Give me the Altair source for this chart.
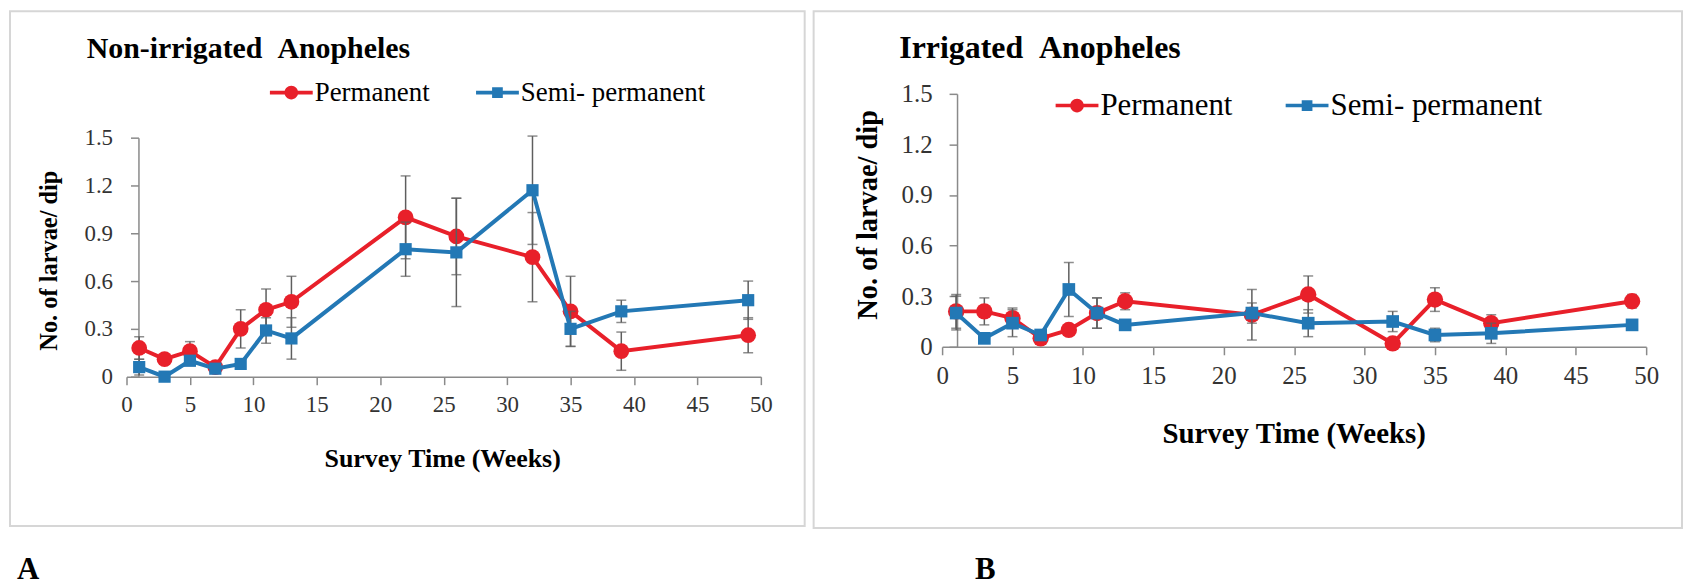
import altair as alt
import pandas as pd

FONT = "Liberation Serif"
RED = "#e8202a"
BLUE = "#2378b5"
ERR_GRAY = "#5e5e5e"
AXIS_GRAY = "#8a8a8a"

series_names = ["Permanent", "Semi- permanent"]
weeks = [1, 3, 5, 7, 9, 11, 13, 22, 26, 32, 35, 39, 49]

# Panel A: Non-irrigated
a_perm = [0.18, 0.11, 0.16, 0.06, 0.30, 0.42, 0.47, 1.00, 0.88, 0.75, 0.41, 0.16, 0.26]
a_perm_err = [0.07, 0.02, 0.06, 0.02, 0.12, 0.13, 0.16, 0.26, 0.24, 0.28, 0.22, 0.12, 0.11]
a_semi = [0.06, 0.00, 0.10, 0.05, 0.08, 0.29, 0.24, 0.80, 0.78, 1.17, 0.30, 0.41, 0.48]
a_semi_err = [0.05, 0.01, 0.03, 0.02, 0.03, 0.08, 0.13, 0.17, 0.34, 0.34, 0.11, 0.07, 0.12]

# Panel B: Irrigated
b_perm = [0.21, 0.21, 0.17, 0.05, 0.10, 0.20, 0.27, 0.19, 0.31, 0.02, 0.28, 0.14, 0.27]
b_perm_err = [0.10, 0.08, 0.06, 0.02, 0.02, 0.09, 0.05, 0.15, 0.11, 0.01, 0.07, 0.05, 0.04]
b_semi = [0.20, 0.05, 0.14, 0.07, 0.34, 0.20, 0.13, 0.20, 0.14, 0.15, 0.07, 0.08, 0.13]
b_semi_err = [0.10, 0.02, 0.08, 0.03, 0.16, 0.09, 0.03, 0.06, 0.08, 0.06, 0.04, 0.06, 0.02]

x_ticks = [0, 5, 10, 15, 20, 25, 30, 35, 40, 45, 50]
y_ticks = [0, 0.3, 0.6, 0.9, 1.2, 1.5]

CIRCLE_LEG = ("M-1,-0.085H1V0.085H-1Z "
              "M-0.32,0A0.32,0.32 0 1,1 0.32,0A0.32,0.32 0 1,1 -0.32,0Z")
SQUARE_LEG = ("M-1,-0.085H1V0.085H-1Z "
              "M-0.25,-0.25H0.25V0.25H-0.25Z")


def make_df(perm, perm_err, semi, semi_err):
    rows = []
    for name, vals, errs in [(series_names[0], perm, perm_err),
                             (series_names[1], semi, semi_err)]:
        for w, v, e in zip(weeks, vals, errs):
            rows.append({"week": w, "value": v, "lo": v - e, "hi": v + e,
                         "series": name})
    return pd.DataFrame(rows)


def panel(df, g):
    s = g["s"]
    xscale = alt.Scale(domain=[0, 50], range=g["xr"], nice=False, zero=False)
    yscale = alt.Scale(domain=[0, 1.5], range=g["yr"], nice=False)
    x_axis = alt.Axis(
        values=x_ticks, format="d", grid=False, offset=g["xoff"],
        tickSize=8, tickColor=AXIS_GRAY, tickWidth=1.5,
        domainColor=AXIS_GRAY, domainWidth=1.5, labelFlush=False,
        labelFont=FONT, labelFontSize=g["lfs"], labelColor="#333333",
        labelPadding=9,
        title="Survey Time (Weeks)", titleFont=FONT,
        titleFontSize=g["xtfs"], titleFontWeight="bold", titleColor="black",
        titleX=g["xtx"], titleY=g["xty"], titleAlign="center",
        titleBaseline="middle",
    )
    y_axis = alt.Axis(
        values=y_ticks, grid=False, offset=g["yoff"], labelFlush=False,
        labelExpr="datum.value == 0 ? '0' : format(datum.value, '.1f')",
        tickSize=8, tickColor=AXIS_GRAY, tickWidth=1.5,
        domainColor=AXIS_GRAY, domainWidth=1.5,
        labelFont=FONT, labelFontSize=g["lfs"], labelColor="#333333",
        labelPadding=g["ylp"],
        title="No. of larvae/ dip", titleFont=FONT,
        titleFontSize=g["ytfs"], titleFontWeight="bold", titleColor="black",
        titleX=g["ytx"], titleY=g["yty"], titleAngle=270,
        titleAlign="center", titleBaseline="middle",
    )

    X = alt.X("week:Q", scale=xscale, axis=x_axis)

    def Y(field):
        return alt.Y(field, scale=yscale, axis=y_axis)

    base = alt.Chart(df)
    layers = []
    for name, color, shape, size in [(series_names[0], RED, "circle", 250),
                                     (series_names[1], BLUE, "square", 150)]:
        sb = base.transform_filter(alt.datum.series == name)
        layers.append(sb.mark_rule(color=ERR_GRAY, strokeWidth=1.5).encode(
            x=X, y=Y("lo:Q"), y2="hi:Q"))
        layers.append(sb.mark_tick(orient="horizontal", size=10, thickness=1.5,
                                   color=ERR_GRAY).encode(x=X, y=Y("lo:Q")))
        layers.append(sb.mark_tick(orient="horizontal", size=10, thickness=1.5,
                                   color=ERR_GRAY).encode(x=X, y=Y("hi:Q")))
        layers.append(sb.mark_line(color=color, strokeWidth=4).encode(
            x=X, y=Y("value:Q")))
        layers.append(sb.mark_point(filled=True, shape=shape, size=size * s,
                                    color=color, opacity=1).encode(
            x=X, y=Y("value:Q")))

    leg = alt.Legend(
        orient="none", legendX=g["lx"], legendY=g["ly"],
        direction="horizontal", title=None,
        symbolSize=g["lsym"], symbolStrokeWidth=0, symbolOpacity=1,
        labelFont=FONT, labelFontSize=g["legfs"], labelColor="black",
        labelOffset=2, columnPadding=g["lcp"], labelLimit=500,
    )
    layers.append(
        base.transform_filter("false").mark_point(filled=True, opacity=1).encode(
            x=X, y=Y("value:Q"),
            color=alt.Color("series:N",
                            scale=alt.Scale(domain=series_names, range=[RED, BLUE]),
                            legend=leg),
            shape=alt.Shape("series:N",
                            scale=alt.Scale(domain=series_names,
                                            range=[CIRCLE_LEG, SQUARE_LEG]),
                            legend=leg),
        )
    )
    layers.append(
        alt.Chart(pd.DataFrame({"t": [g["title"]]})).mark_text(
            align="left", baseline="alphabetic", font=FONT,
            fontSize=g["tfs"], fontWeight="bold", color="black"
        ).encode(x=alt.value(g["tx"]), y=alt.value(g["ty"]), text="t:N")
    )
    layers.append(
        alt.Chart(pd.DataFrame({"t": [g["tag"]]})).mark_text(
            align="left", baseline="alphabetic", font=FONT,
            fontSize=31, fontWeight="bold", color="black"
        ).encode(x=alt.value(g["agx"]), y=alt.value(570), text="t:N")
    )
    return alt.layer(*layers).properties(width=g["w"], height=g["h"])


geom_a = dict(s=1.0, w=798, h=517, xr=[117, 754], yr=[367, 127],
              xoff=-150, yoff=-129, ylp=18, lfs=23, xtfs=26, ytfs=24.5,
              xtx=434, xty=82, ytx=-89, yty=250,
              lx=261, ly=60, lsym=1849, lcp=46, legfs=27,
              title="Non-irrigated\u2002Anopheles", tfs=30, tx=77, ty=47,
              tag="A", agx=7)
geom_b = dict(s=1.08, w=872, h=519, xr=[129, 836], yr=[337, 83],
              xoff=-182, yoff=-144, ylp=17, lfs=25, xtfs=29, ytfs=28.5,
              xtx=482, xty=87, ytx=-90, yty=204,
              lx=243, ly=73, lsym=1849, lcp=53, legfs=31,
              title="Irrigated\u2002Anopheles", tfs=32, tx=86, ty=47,
              tag="B", agx=162)

left = panel(make_df(a_perm, a_perm_err, a_semi, a_semi_err), geom_a)
right = panel(make_df(b_perm, b_perm_err, b_semi, b_semi_err), geom_b)

chart = alt.hconcat(left, right, spacing=7).resolve_scale(
    color="independent", shape="independent", x="independent", y="independent"
).properties(
    padding={"left": 1, "top": 1, "right": 0, "bottom": 0},
    background="white",
).configure_view(stroke="#d6d6d6", strokeWidth=2)

chart.save("out.html", embed_options={"renderer": "svg", "actions": False})
